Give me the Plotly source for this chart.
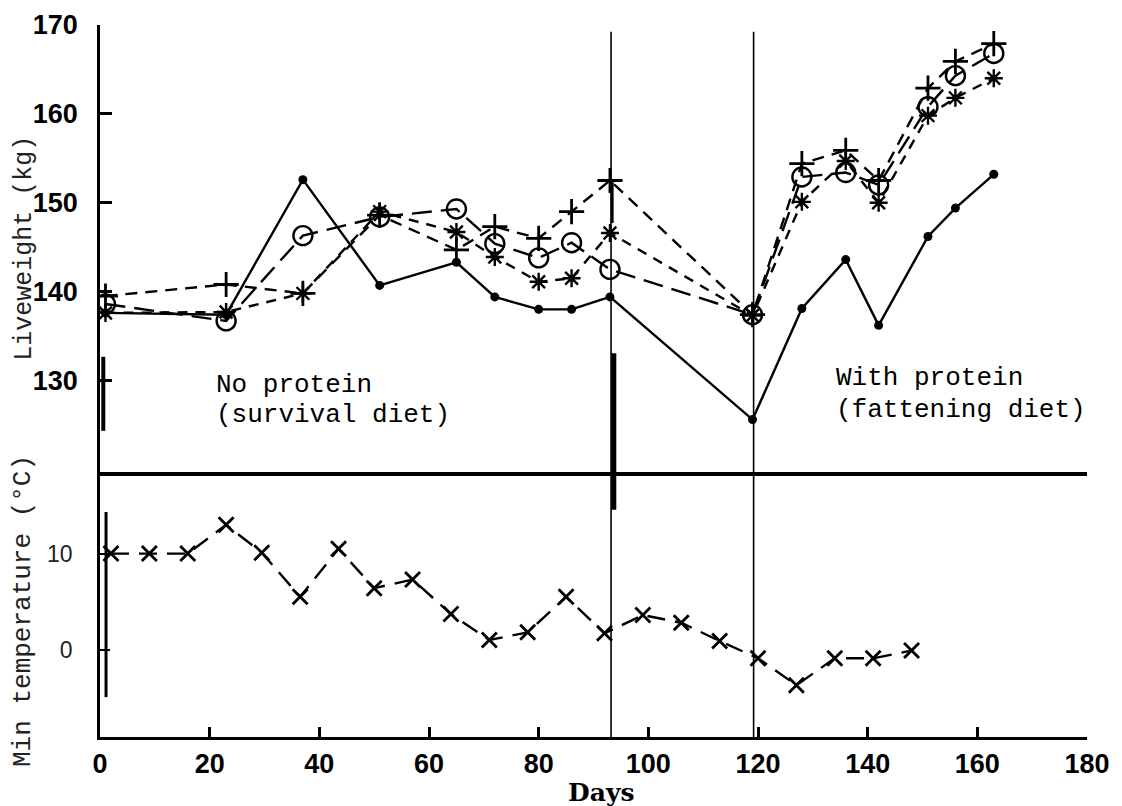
import plotly.graph_objects as go

# ---------------- data ----------------
DAYS_LW = [1, 23, 37, 51, 65, 72, 80, 86, 93, 119, 128, 136, 142, 151, 156, 163]
LW_DOT = [137.6, 137.4, 152.6, 140.7, 143.3, 139.4, 138.0, 138.0, 139.4, 125.6, 138.1, 143.6, 136.2, 146.2, 149.4, 153.2]
LW_CIRCLE = [138.6, 136.7, 146.3, 148.4, 149.3, 145.4, 143.8, 145.5, 142.5, 137.4, 152.9, 153.4, 152.0, 160.8, 164.3, 166.8]
LW_PLUS = [139.5, 140.8, 139.8, 148.6, 144.7, 147.3, 146.0, 149.0, 152.5, 137.4, 154.4, 155.9, 152.5, 162.9, 165.9, 167.9]
LW_STAR = [137.6, 137.7, 139.8, 149.0, 146.7, 143.9, 141.1, 141.5, 146.6, 137.3, 150.1, 154.7, 150.0, 159.8, 161.8, 164.0]

DAYS_T = [2, 9, 16, 23, 29.5, 36.5, 43.5, 50, 57, 64, 71, 78, 85, 92, 99, 106, 113, 120, 127, 134, 141, 148]
MIN_TEMP = [10.0, 10.0, 10.0, 13.0, 10.1, 5.5, 10.5, 6.4, 7.3, 3.7, 1.0, 1.8, 5.5, 1.7, 3.6, 2.8, 0.9, -0.9, -3.7, -0.9, -0.9, -0.1]

X_TICKS = [0, 20, 40, 60, 80, 100, 120, 140, 160, 180]
LW_TICKS = [130, 140, 150, 160, 170]
T_TICKS = [0, 10]
DIET_CHANGES = [93.2, 119.2]

# ---------------- figure ----------------
fig = go.Figure()
line_w = 2.4

fig.add_trace(go.Scatter(x=DAYS_LW, y=LW_DOT, xaxis="x2", yaxis="y2", mode="lines+markers",
                         line=dict(color="black", width=line_w),
                         marker=dict(symbol="circle", size=9, color="black")))
fig.add_trace(go.Scatter(x=DAYS_LW, y=LW_CIRCLE, xaxis="x2", yaxis="y2", mode="lines+markers",
                         line=dict(color="black", width=line_w, dash="20px,9px"),
                         marker=dict(symbol="circle-open", size=19, color="black",
                                     line=dict(color="black", width=2.4))))
fig.add_trace(go.Scatter(x=DAYS_LW, y=LW_PLUS, xaxis="x2", yaxis="y2", mode="lines+markers",
                         line=dict(color="black", width=line_w, dash="12px,8px"),
                         marker=dict(symbol="cross-thin-open", size=18, color="black",
                                     line=dict(color="black", width=2.8))))
fig.add_trace(go.Scatter(x=DAYS_LW, y=LW_STAR, xaxis="x2", yaxis="y2", mode="lines+markers",
                         line=dict(color="black", width=line_w, dash="10px,8px"),
                         marker=dict(symbol="asterisk-open", size=15, color="black",
                                     line=dict(color="black", width=2.4))))

fig.add_trace(go.Scatter(x=DAYS_T, y=MIN_TEMP, xaxis="x", yaxis="y", mode="lines+markers",
                         line=dict(color="black", width=line_w, dash="18px,10px"),
                         marker=dict(symbol="x-thin-open", size=15, color="black",
                                     line=dict(color="black", width=2.8))))

split = 0.3722
tick_font = dict(family="Liberation Sans", size=27, color="black", weight="bold")

fig.update_layout(
    width=1122, height=806,
    margin=dict(l=100, r=35, t=25, b=69, autoexpand=False),
    paper_bgcolor="white", plot_bgcolor="white",
    showlegend=False,
    xaxis=dict(domain=[0, 1], range=[0, 180], anchor="y", tickvals=X_TICKS,
               ticks="inside", ticklen=10, tickwidth=2.5, tickcolor="black",
               showline=True, linewidth=3, linecolor="black", showgrid=False, zeroline=False,
               tickfont=tick_font, ticklabelstandoff=1),
    yaxis=dict(domain=[0, split], range=[-9.1, 18.5], anchor="x", tickvals=T_TICKS,
               ticks="inside", ticklen=10, tickwidth=2, tickcolor="black",
               showline=True, linewidth=2.5, linecolor="black", showgrid=False, zeroline=False,
               tickfont=dict(family="Liberation Sans", size=23, color="#222"), ticklabelstandoff=20),
    xaxis2=dict(domain=[0, 1], range=[0, 180], anchor="y2", matches="x",
                showticklabels=False, ticks="", showline=True, linewidth=4, linecolor="black",
                showgrid=False, zeroline=False),
    yaxis2=dict(domain=[split, 1], range=[119.7, 170], anchor="x2", tickvals=LW_TICKS,
                ticks="inside", ticklen=12, tickwidth=2.5, tickcolor="black",
                showline=True, linewidth=2.5, linecolor="black", showgrid=False, zeroline=False,
                tickfont=tick_font, ticklabelstandoff=14),
)

shapes = []
for d in DIET_CHANGES:
    shapes.append(dict(type="line", xref="x", yref="paper", x0=d, x1=d, y0=0, y1=0.9906,
                       line=dict(color="black", width=1.6)))
# heavy paste-up marks of the scanned original
shapes.append(dict(type="line", xref="x", yref="paper", x0=93.7, x1=93.7, y0=0.319, y1=0.539,
                   line=dict(color="black", width=5)))
shapes.append(dict(type="line", xref="x", yref="paper", x0=93.4, x1=93.4, y0=0.722, y1=0.782,
                   line=dict(color="black", width=3)))
shapes.append(dict(type="line", xref="x", yref="paper", x0=0.6, x1=0.6, y0=0.43, y1=0.534,
                   line=dict(color="black", width=4)))
shapes.append(dict(type="line", xref="x", yref="paper", x0=1.1, x1=1.1, y0=0.056, y1=0.316,
                   line=dict(color="black", width=3)))
fig.update_layout(shapes=shapes)

mono = dict(family="Liberation Mono", size=26, color="black")
ann = [
    dict(text="No protein", xref="x2", yref="y2", x=20.8, y=129.5, xanchor="left", yanchor="middle",
         showarrow=False, font=mono),
    dict(text="(survival diet)", xref="x2", yref="y2", x=20.8, y=126.1, xanchor="left", yanchor="middle",
         showarrow=False, font=mono),
    dict(text="With protein", xref="x2", yref="y2", x=133.9, y=130.3, xanchor="left", yanchor="middle",
         showarrow=False, font=mono),
    dict(text="(fattening diet)", xref="x2", yref="y2", x=133.9, y=126.7, xanchor="left", yanchor="middle",
         showarrow=False, font=mono),
    dict(text="Liveweight (kg)", xref="paper", yref="paper", x=-0.076, y=0.687, textangle=-90,
         xanchor="center", yanchor="middle", showarrow=False,
         font=dict(family="Liberation Mono", size=25, color="#222")),
    dict(text="Min temperature (°C)", xref="paper", yref="paper", x=-0.078, y=0.177, textangle=-90,
         xanchor="center", yanchor="middle", showarrow=False,
         font=dict(family="Liberation Mono", size=26, color="#222")),
    dict(text="Days", xref="paper", yref="paper", x=0.5076, y=-0.0775, xanchor="center", yanchor="middle",
         showarrow=False, font=dict(family="DejaVu Serif", size=25, color="black", weight="bold")),
]
fig.update_layout(annotations=ann)

fig.write_html("out.html")
